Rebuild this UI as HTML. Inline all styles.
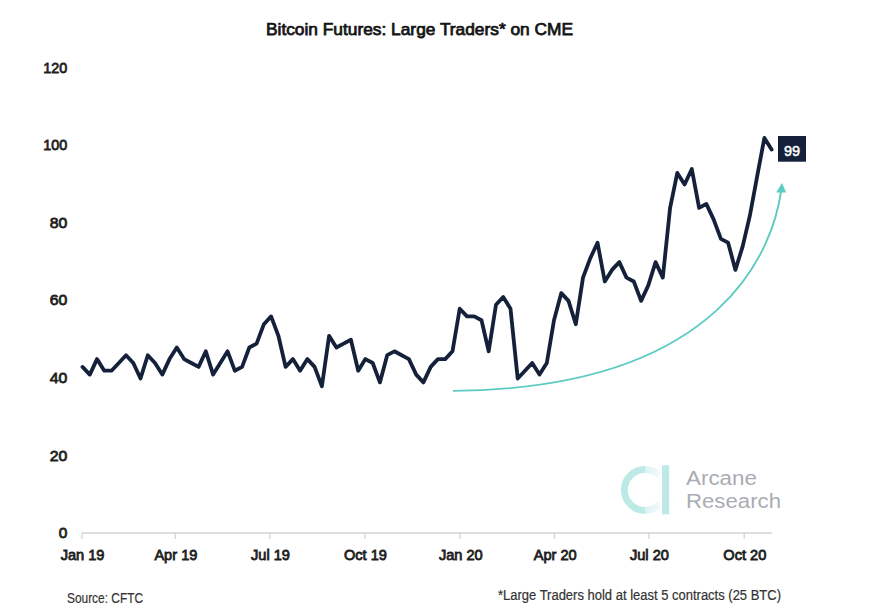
<!DOCTYPE html>
<html><head><meta charset="utf-8"><style>
html,body{margin:0;padding:0;background:#fff;width:871px;height:607px;overflow:hidden}
svg{display:block}
.lab.xl{font-size:14.6px}
.lab.yl{font-size:15.4px}
.lab{font-family:"Liberation Sans",sans-serif;font-size:14.5px;fill:#1e1e1e;stroke:#1e1e1e;stroke-width:0.8px}
.title{font-family:"Liberation Sans",sans-serif;font-size:16.5px;fill:#141414;stroke:#141414;stroke-width:0.75px}
.foot{font-family:"Liberation Sans",sans-serif;font-size:14px;fill:#333;stroke:#333;stroke-width:0.2px}
.logo{font-family:"Liberation Sans",sans-serif;font-size:20px;fill:#a9adb3}
</style></head><body>
<svg width="871" height="607" viewBox="0 0 871 607">
<defs>
<linearGradient id="lg" gradientUnits="userSpaceOnUse" x1="645" y1="0" x2="660" y2="0"><stop offset="0" stop-color="#d9f3f1"/><stop offset="1" stop-color="#f2fbfa"/></linearGradient>
</defs>
<text x="266" y="35" class="title" textLength="307" lengthAdjust="spacingAndGlyphs">Bitcoin Futures: Large Traders* on CME</text>
<text x="58.7" y="538.2" class="lab yl" textLength="8.6" lengthAdjust="spacingAndGlyphs">0</text>
<text x="49.7" y="460.6" class="lab yl" textLength="17.6" lengthAdjust="spacingAndGlyphs">20</text>
<text x="49.7" y="383.0" class="lab yl" textLength="17.6" lengthAdjust="spacingAndGlyphs">40</text>
<text x="49.7" y="305.4" class="lab yl" textLength="17.6" lengthAdjust="spacingAndGlyphs">60</text>
<text x="49.7" y="227.8" class="lab yl" textLength="17.6" lengthAdjust="spacingAndGlyphs">80</text>
<text x="43.3" y="150.2" class="lab yl" textLength="24.0" lengthAdjust="spacingAndGlyphs">100</text>
<text x="43.3" y="72.6" class="lab yl" textLength="24.0" lengthAdjust="spacingAndGlyphs">120</text>
<line x1="81.5" y1="533" x2="772.3" y2="533" stroke="#dfdfdf" stroke-width="1.8"/>
<line x1="82.0" y1="533" x2="82.0" y2="539" stroke="#d4d4d4" stroke-width="1.3"/>
<line x1="175.3" y1="533" x2="175.3" y2="539" stroke="#d4d4d4" stroke-width="1.3"/>
<line x1="269.9" y1="533" x2="269.9" y2="539" stroke="#d4d4d4" stroke-width="1.3"/>
<line x1="364.8" y1="533" x2="364.8" y2="539" stroke="#d4d4d4" stroke-width="1.3"/>
<line x1="460.2" y1="533" x2="460.2" y2="539" stroke="#d4d4d4" stroke-width="1.3"/>
<line x1="554.6" y1="533" x2="554.6" y2="539" stroke="#d4d4d4" stroke-width="1.3"/>
<line x1="648.8" y1="533" x2="648.8" y2="539" stroke="#d4d4d4" stroke-width="1.3"/>
<line x1="744.2" y1="533" x2="744.2" y2="539" stroke="#d4d4d4" stroke-width="1.3"/>
<text x="82.6" y="560" text-anchor="middle" class="lab xl">Jan 19</text>
<text x="175.9" y="560" text-anchor="middle" class="lab xl">Apr 19</text>
<text x="270.5" y="560" text-anchor="middle" class="lab xl">Jul 19</text>
<text x="365.4" y="560" text-anchor="middle" class="lab xl">Oct 19</text>
<text x="460.8" y="560" text-anchor="middle" class="lab xl">Jan 20</text>
<text x="555.2" y="560" text-anchor="middle" class="lab xl">Apr 20</text>
<text x="649.4" y="560" text-anchor="middle" class="lab xl">Jul 20</text>
<text x="744.8" y="560" text-anchor="middle" class="lab xl">Oct 20</text>
<g>
<path d="M645.5,469.4 L644.9,469.4 A20.5,20.5 0 0,0 644.9,510.4 L645.5,510.4" fill="none" stroke="#bdeae6" stroke-width="7"/>
<path d="M644.9,469.4 A20.5,20.5 0 0,1 659.5,475.5 M644.9,510.4 A20.5,20.5 0 0,0 659.5,504.3" fill="none" stroke="url(#lg)" stroke-width="7"/>
<rect x="662" y="465.3" width="7.2" height="49" fill="#bfe9e7"/>
<text x="686" y="484.7" class="logo" textLength="71" lengthAdjust="spacingAndGlyphs">Arcane</text>
<text x="686" y="507.5" class="logo" textLength="95" lengthAdjust="spacingAndGlyphs">Research</text>
</g>
<path d="M453,390.9 C727.9,388.3 773.7,243.7 781.2,190.5" fill="none" stroke="#5ecbc2" stroke-width="1.9"/>
<path d="M782,183 L776.2,192.6 L786.2,192.6 Z" fill="#5ecbc2"/>
<polyline points="82.5,366.9 89.8,374.6 97.0,359.1 104.3,370.7 111.5,370.7 118.8,363.0 126.0,355.2 133.3,363.0 140.5,378.5 147.8,355.2 155.0,363.0 162.3,374.6 169.5,359.1 176.8,347.5 184.1,359.1 191.3,363.0 198.6,366.9 205.8,351.3 213.1,374.6 220.3,363.0 227.6,351.3 234.8,370.7 242.1,366.9 249.3,347.5 256.6,343.6 263.9,324.2 271.1,316.4 278.4,335.8 285.6,366.9 292.9,359.1 300.1,370.7 307.4,359.1 314.6,366.9 321.9,386.3 329.1,335.8 336.4,347.5 343.6,343.6 350.9,339.7 358.2,370.7 365.4,359.1 372.7,363.0 379.9,382.4 387.2,355.2 394.4,351.3 401.7,355.2 408.9,359.1 416.2,374.6 423.4,382.4 430.7,366.9 437.9,359.1 445.2,359.1 452.5,351.3 459.7,308.7 467.0,316.4 474.2,316.4 481.5,320.3 488.7,351.3 496.0,304.8 503.2,297.0 510.5,308.7 517.7,378.5 525.0,370.7 532.2,363.0 539.5,374.6 546.8,363.0 554.0,320.3 561.3,293.1 568.5,300.9 575.8,324.2 583.0,277.6 590.3,258.2 597.5,242.7 604.8,281.5 612.0,269.9 619.3,262.1 626.5,277.6 633.8,281.5 641.1,300.9 648.3,285.4 655.6,262.1 662.8,277.6 670.1,207.8 677.3,172.9 684.6,184.5 691.8,169.0 699.1,207.8 706.3,203.9 713.6,219.4 720.9,238.8 728.1,242.7 735.4,269.9 742.6,246.6 749.9,215.5 757.1,176.7 764.4,137.9 771.6,149.6" fill="none" stroke="#15213a" stroke-width="3.8" stroke-linejoin="round" stroke-linecap="round"/>
<rect x="778" y="136" width="28" height="25.7" fill="#15213a"/>
<text x="792" y="156" text-anchor="middle" class="lab" style="fill:#fff;stroke:#fff;stroke-width:0.5px">99</text>
<text x="67" y="603.4" class="foot" textLength="76" lengthAdjust="spacingAndGlyphs">Source: CFTC</text>
<text x="498" y="599.5" class="foot" textLength="283" lengthAdjust="spacingAndGlyphs">*Large Traders hold at least 5 contracts (25 BTC)</text>
</svg>
</body></html>
